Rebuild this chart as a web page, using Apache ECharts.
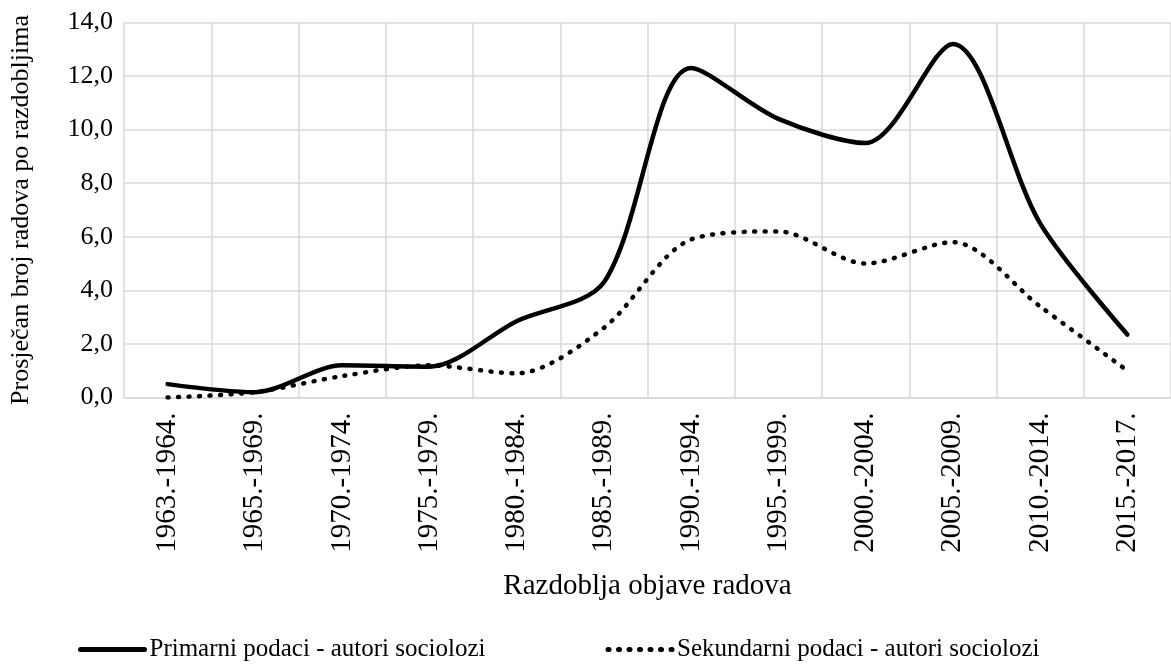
<!DOCTYPE html>
<html>
<head>
<meta charset="utf-8">
<script src="https://cdn.jsdelivr.net/npm/echarts@6/dist/echarts.min.js"></script>
<style>
	html, body { margin: 0; padding: 0; background: #fff; }
	#chart { width: 1171px; height: 670px; }
</style>
</head>
<body>
<div id="chart"></div>
<script>
var periods = ['1963.-1964.', '1965.-1969.', '1970.-1974.', '1975.-1979.', '1980.-1984.', '1985.-1989.',
	'1990.-1994.', '1995.-1999.', '2000.-2004.', '2005.-2009.', '2010.-2014.', '2015.-2017.'];
var primarni = [0.5, 0.2, 1.2, 1.15, 2.85, 4.3, 12.3, 10.4, 9.5, 13.2, 6.5, 2.35];
var sekundarni = [0.0, 0.2, 0.8, 1.2, 0.9, 2.6, 5.9, 6.2, 5.0, 5.8, 3.4, 1.0];
var yTicks = [0, 2, 4, 6, 8, 10, 12, 14];

var font = 'Liberation Serif';
var gridColor = '#d9d9d9';

var chart = echarts.init(document.getElementById('chart'));
chart.setOption({
	animation: false,
	textStyle: { fontFamily: font, color: '#000' },
	grid: {
		left: 124,
		right: -9,
		top: 22.5,
		bottom: 272.5,
		containLabel: false
	},
	legend: {
		left: 73,
		top: 632,
		itemWidth: 64,
		itemHeight: 12,
		itemGap: 120,
		itemStyle: { opacity: 0 },
		lineStyle: { width: 5, cap: 'round' },
		textStyle: { fontFamily: font, fontSize: 25, color: '#000' },
		data: ['Primarni podaci - autori sociolozi', 'Sekundarni podaci - autori sociolozi']
	},
	xAxis: {
		type: 'category',
		data: periods,
		boundaryGap: true,
		name: 'Razdoblja objave radova',
		nameLocation: 'middle',
		nameGap: 174,
		nameTextStyle: { fontFamily: font, fontSize: 29, color: '#000', verticalAlign: 'top' },
		axisLine: { lineStyle: { color: gridColor, width: 1.5 } },
		axisTick: { show: false },
		axisLabel: {
			rotate: 90,
			margin: 15,
			interval: 0,
			fontFamily: font,
			fontSize: 29,
			color: '#000'
		},
		splitLine: { show: true, interval: 0, lineStyle: { color: gridColor, width: 1.5 } }
	},
	yAxis: {
		type: 'value',
		min: yTicks[0],
		max: yTicks[yTicks.length - 1],
		interval: 2,
		name: 'Prosječan broj radova po razdobljima',
		nameLocation: 'middle',
		nameGap: 90,
		nameTextStyle: { fontFamily: font, fontSize: 26, color: '#000' },
		axisLine: { show: false },
		axisTick: { show: false },
		axisLabel: {
			margin: 11,
			fontFamily: font,
			fontSize: 26,
			color: '#000',
			formatter: function (v) { return v.toFixed(1).replace('.', ','); }
		},
		splitLine: { lineStyle: { color: gridColor, width: 1.5 } }
	},
	series: [{
		name: 'Primarni podaci - autori sociolozi',
		type: 'line',
		data: primarni,
		smooth: 0.3,
		symbol: 'none',
		lineStyle: { color: '#000', width: 4.5, cap: 'round' },
		itemStyle: { color: '#000' }
	}, {
		name: 'Sekundarni podaci - autori sociolozi',
		type: 'line',
		data: sekundarni,
		smooth: 0.3,
		symbol: 'none',
		lineStyle: { color: '#000', width: 4.5, type: [1, 9.5], cap: 'round' },
		itemStyle: { color: '#000' }
	}]
});
</script>
</body>
</html>
